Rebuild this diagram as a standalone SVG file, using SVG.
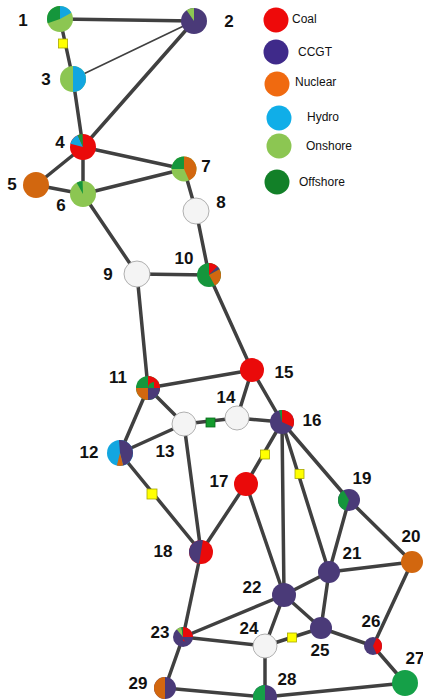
<svg xmlns="http://www.w3.org/2000/svg" width="423" height="700" viewBox="0 0 423 700">
<style>
.e{stroke:#404040;stroke-width:3.5;stroke-linecap:round;fill:none}
.t{stroke-width:1.6}
.w{fill:none}
.lb{font-family:"Liberation Sans",Arial,sans-serif;font-weight:bold;font-size:17px;fill:#111;text-anchor:middle}
.lg{font-family:"Liberation Sans",Arial,sans-serif;font-size:12px;fill:#111}
.wh{fill:#f4f4f4;stroke:#b0b0b0;stroke-width:1}
.ys{fill:#ffff00;stroke:#a8a800;stroke-width:0.8}
.gs{fill:#139a2c;stroke:#0c6a1c;stroke-width:0.8}
</style>
<rect width="423" height="700" fill="#ffffff"/>
<g id="connectors">
<line class="e" x1="60" y1="19" x2="194" y2="21"/>
<line class="e" x1="60" y1="19" x2="73" y2="79"/>
<line class="e t" x1="194" y1="21" x2="73" y2="79"/>
<line class="e" x1="194" y1="21" x2="83" y2="147"/>
<line class="e" x1="73" y1="79" x2="83" y2="147"/>
<line class="e" x1="83" y1="147" x2="36" y2="185"/>
<line class="e" x1="83" y1="147" x2="83" y2="194"/>
<line class="e" x1="83" y1="147" x2="184" y2="169"/>
<line class="e" x1="36" y1="185" x2="83" y2="194"/>
<line class="e" x1="83" y1="194" x2="184" y2="169"/>
<line class="e" x1="184" y1="169" x2="196" y2="211"/>
<line class="e" x1="83" y1="194" x2="137" y2="274"/>
<line class="e" x1="196" y1="211" x2="209" y2="275"/>
<line class="e" x1="137" y1="274" x2="209" y2="275"/>
<line class="e" x1="137" y1="274" x2="148" y2="388"/>
<line class="e" x1="209" y1="275" x2="252" y2="370"/>
<line class="e" x1="148" y1="388" x2="252" y2="370"/>
<line class="e" x1="148" y1="388" x2="120" y2="453"/>
<line class="e" x1="148" y1="388" x2="184" y2="424"/>
<line class="e" x1="120" y1="453" x2="184" y2="424"/>
<line class="e" x1="120" y1="453" x2="201" y2="552"/>
<line class="e" x1="184" y1="424" x2="237" y2="418"/>
<line class="e" x1="184" y1="424" x2="201" y2="552"/>
<line class="e" x1="237" y1="418" x2="252" y2="370"/>
<line class="e" x1="237" y1="418" x2="282" y2="422"/>
<line class="e" x1="252" y1="370" x2="282" y2="422"/>
<line class="e" x1="282" y1="422" x2="246" y2="484"/>
<line class="e" x1="282" y1="422" x2="284" y2="595"/>
<line class="e" x1="282" y1="422" x2="329" y2="572"/>
<line class="e" x1="282" y1="422" x2="349" y2="500"/>
<line class="e" x1="246" y1="484" x2="201" y2="552"/>
<line class="e" x1="246" y1="484" x2="284" y2="595"/>
<line class="e" x1="349" y1="500" x2="329" y2="572"/>
<line class="e" x1="349" y1="500" x2="412" y2="562"/>
<line class="e" x1="412" y1="562" x2="329" y2="572"/>
<line class="e" x1="412" y1="562" x2="373" y2="646"/>
<line class="e" x1="329" y1="572" x2="284" y2="595"/>
<line class="e" x1="329" y1="572" x2="321" y2="628"/>
<line class="e" x1="284" y1="595" x2="321" y2="628"/>
<line class="e" x1="284" y1="595" x2="183" y2="637"/>
<line class="e" x1="284" y1="595" x2="265" y2="646"/>
<line class="e" x1="183" y1="637" x2="265" y2="646"/>
<line class="e" x1="201" y1="552" x2="183" y2="637"/>
<line class="e" x1="183" y1="637" x2="165" y2="688"/>
<line class="e" x1="265" y1="646" x2="321" y2="628"/>
<line class="e" x1="265" y1="646" x2="265" y2="697"/>
<line class="e" x1="321" y1="628" x2="373" y2="646"/>
<line class="e" x1="373" y1="646" x2="405" y2="683"/>
<line class="e" x1="165" y1="688" x2="265" y2="697"/>
<line class="e" x1="265" y1="697" x2="405" y2="683"/>
<rect class="ys" x="58.5" y="39" width="9" height="9"/>
<rect class="ys" x="147" y="489" width="10" height="10"/>
<rect class="ys" x="260.5" y="450" width="9" height="9"/>
<rect class="ys" x="295" y="469.5" width="9" height="9"/>
<rect class="ys" x="287.5" y="633" width="9" height="9"/>
<rect class="gs" x="206" y="418" width="9" height="9"/>
</g>
<g id="n1"><circle cx="60" cy="19" r="13" fill="#8cc652"/><circle class="w" cx="60" cy="19" r="6.5" stroke-width="13" pathLength="100" stroke="#12a6e0" stroke-dasharray="16.67 100" transform="rotate(-90 60 19)"/><circle class="w" cx="60" cy="19" r="6.5" stroke-width="13" pathLength="100" stroke="#15963c" stroke-dasharray="30.56 100" stroke-dashoffset="-69.44" transform="rotate(-90 60 19)"/></g>
<g id="n2"><circle cx="194" cy="21" r="13" fill="#4a3a78"/><circle class="w" cx="194" cy="21" r="6.5" stroke-width="13" pathLength="100" stroke="#8cc652" stroke-dasharray="9.72 100" stroke-dashoffset="-90.28" transform="rotate(-90 194 21)"/></g>
<g id="n3"><circle cx="73" cy="79" r="13" fill="#8cc652"/><circle class="w" cx="73" cy="79" r="6.5" stroke-width="13" pathLength="100" stroke="#12a6e0" stroke-dasharray="50 100" transform="rotate(-90 73 79)"/></g>
<g id="n4"><circle cx="83" cy="147" r="13" fill="#ea0a0a"/><circle class="w" cx="83" cy="147" r="6.5" stroke-width="13" pathLength="100" stroke="#12a6e0" stroke-dasharray="13.89 100" stroke-dashoffset="-79.17" transform="rotate(-90 83 147)"/><circle class="w" cx="83" cy="147" r="6.5" stroke-width="13" pathLength="100" stroke="#15963c" stroke-dasharray="6.39 100" stroke-dashoffset="-93.06" transform="rotate(-90 83 147)"/></g>
<g id="n5"><circle cx="36" cy="185" r="13" fill="#d2670f"/></g>
<g id="n6"><circle cx="83" cy="194" r="13" fill="#8cc652"/><circle class="w" cx="83" cy="194" r="6.5" stroke-width="13" pathLength="100" stroke="#15963c" stroke-dasharray="7.78 100" stroke-dashoffset="-91.67" transform="rotate(-90 83 194)"/></g>
<g id="n7"><circle cx="184" cy="169" r="12.5" fill="#8cc652"/><circle class="w" cx="184" cy="169" r="6.25" stroke-width="12.5" pathLength="100" stroke="#d2670f" stroke-dasharray="43.06 100" transform="rotate(-90 184 169)"/><circle class="w" cx="184" cy="169" r="6.25" stroke-width="12.5" pathLength="100" stroke="#15963c" stroke-dasharray="25 100" stroke-dashoffset="-75" transform="rotate(-90 184 169)"/></g>
<g id="n8"><circle class="wh" cx="196" cy="211" r="13"/></g>
<g id="n9"><circle class="wh" cx="137" cy="274" r="13"/></g>
<g id="n10"><circle cx="209" cy="275" r="12" fill="#15963c"/><circle class="w" cx="209" cy="275" r="6" stroke-width="12" pathLength="100" stroke="#ea0a0a" stroke-dasharray="12.5 100" transform="rotate(-90 209 275)"/><circle class="w" cx="209" cy="275" r="6" stroke-width="12" pathLength="100" stroke="#4a3a78" stroke-dasharray="4.17 100" stroke-dashoffset="-12.5" transform="rotate(-90 209 275)"/><circle class="w" cx="209" cy="275" r="6" stroke-width="12" pathLength="100" stroke="#d2670f" stroke-dasharray="25 100" stroke-dashoffset="-16.67" transform="rotate(-90 209 275)"/></g>
<g id="n11"><circle cx="148" cy="388" r="12" fill="#15963c"/><circle class="w" cx="148" cy="388" r="6" stroke-width="12" pathLength="100" stroke="#ea0a0a" stroke-dasharray="25 100" transform="rotate(-90 148 388)"/><circle class="w" cx="148" cy="388" r="6" stroke-width="12" pathLength="100" stroke="#4a3a78" stroke-dasharray="25 100" stroke-dashoffset="-25" transform="rotate(-90 148 388)"/><circle class="w" cx="148" cy="388" r="6" stroke-width="12" pathLength="100" stroke="#d2670f" stroke-dasharray="25 100" stroke-dashoffset="-50" transform="rotate(-90 148 388)"/></g>
<g id="n12"><circle cx="120" cy="453" r="13" fill="#12a6e0"/><circle class="w" cx="120" cy="453" r="6.5" stroke-width="13" pathLength="100" stroke="#4a3a78" stroke-dasharray="45.83 100" transform="rotate(-90 120 453)"/><circle class="w" cx="120" cy="453" r="6.5" stroke-width="13" pathLength="100" stroke="#d2670f" stroke-dasharray="8.33 100" stroke-dashoffset="-45.83" transform="rotate(-90 120 453)"/><circle class="w" cx="120" cy="453" r="6.5" stroke-width="13" pathLength="100" stroke="#4a3a78" stroke-dasharray="1.39 100" stroke-dashoffset="-98.61" transform="rotate(-90 120 453)"/></g>
<g id="n13"><circle class="wh" cx="184" cy="424" r="12"/></g>
<g id="n14"><circle class="wh" cx="237" cy="418" r="12"/></g>
<g id="n15"><circle cx="252" cy="370" r="12" fill="#ea0a0a"/></g>
<g id="n16"><circle cx="282" cy="422" r="12" fill="#4a3a78"/><circle class="w" cx="282" cy="422" r="6" stroke-width="12" pathLength="100" stroke="#ea0a0a" stroke-dasharray="31.94 100" transform="rotate(-90 282 422)"/><circle class="w" cx="282" cy="422" r="6" stroke-width="12" pathLength="100" stroke="#15963c" stroke-dasharray="4.17 100" stroke-dashoffset="-95.83" transform="rotate(-90 282 422)"/></g>
<g id="n17"><circle cx="246" cy="484" r="12" fill="#ea0a0a"/></g>
<g id="n18"><circle cx="201" cy="552" r="12" fill="#ea0a0a"/><circle class="w" cx="201" cy="552" r="6" stroke-width="12" pathLength="100" stroke="#4a3a78" stroke-dasharray="47.22 100" stroke-dashoffset="-52.78" transform="rotate(-90 201 552)"/><circle class="w" cx="201" cy="552" r="6" stroke-width="12" pathLength="100" stroke="#4a3a78" stroke-dasharray="2.78 100" transform="rotate(-90 201 552)"/></g>
<g id="n19"><circle cx="349" cy="500" r="11" fill="#4a3a78"/><circle class="w" cx="349" cy="500" r="5.5" stroke-width="11" pathLength="100" stroke="#15963c" stroke-dasharray="36.11 100" stroke-dashoffset="-55.56" transform="rotate(-90 349 500)"/></g>
<g id="n20"><circle cx="412" cy="562" r="11" fill="#d2670f"/></g>
<g id="n21"><circle cx="329" cy="572" r="11" fill="#4a3a78"/></g>
<g id="n22"><circle cx="284" cy="595" r="12" fill="#4a3a78"/></g>
<g id="n23"><circle cx="183" cy="637" r="10" fill="#4a3a78"/><circle class="w" cx="183" cy="637" r="5" stroke-width="10" pathLength="100" stroke="#ea0a0a" stroke-dasharray="25 100" transform="rotate(-90 183 637)"/><circle class="w" cx="183" cy="637" r="5" stroke-width="10" pathLength="100" stroke="#8cc652" stroke-dasharray="8.33 100" stroke-dashoffset="-88.89" transform="rotate(-90 183 637)"/><circle class="w" cx="183" cy="637" r="5" stroke-width="10" pathLength="100" stroke="#15963c" stroke-dasharray="2.78 100" stroke-dashoffset="-97.22" transform="rotate(-90 183 637)"/></g>
<g id="n24"><circle class="wh" cx="265" cy="646" r="12"/></g>
<g id="n25"><circle cx="321" cy="628" r="11" fill="#4a3a78"/></g>
<g id="n26"><circle cx="373" cy="646" r="9" fill="#4a3a78"/><circle class="w" cx="373" cy="646" r="4.5" stroke-width="9" pathLength="100" stroke="#ea0a0a" stroke-dasharray="36.11 100" stroke-dashoffset="-6.94" transform="rotate(-90 373 646)"/></g>
<g id="n27"><circle cx="405" cy="683" r="13" fill="#15a048"/></g>
<g id="n28"><circle cx="265" cy="697" r="12" fill="#4a3a78"/><circle class="w" cx="265" cy="697" r="6" stroke-width="12" pathLength="100" stroke="#15a048" stroke-dasharray="50 100" stroke-dashoffset="-50" transform="rotate(-90 265 697)"/></g>
<g id="n29"><circle cx="165" cy="688" r="11" fill="#4a3a78"/><circle class="w" cx="165" cy="688" r="5.5" stroke-width="11" pathLength="100" stroke="#d2670f" stroke-dasharray="50 100" stroke-dashoffset="-50" transform="rotate(-90 165 688)"/></g>
<g id="labels">
<text class="lb" x="23" y="26">1</text>
<text class="lb" x="229" y="27">2</text>
<text class="lb" x="46" y="85">3</text>
<text class="lb" x="60" y="148">4</text>
<text class="lb" x="12" y="190">5</text>
<text class="lb" x="61" y="211">6</text>
<text class="lb" x="206" y="172">7</text>
<text class="lb" x="221" y="208">8</text>
<text class="lb" x="108" y="280">9</text>
<text class="lb" x="184" y="264">10</text>
<text class="lb" x="118" y="383">11</text>
<text class="lb" x="89" y="458">12</text>
<text class="lb" x="165" y="457">13</text>
<text class="lb" x="226" y="403">14</text>
<text class="lb" x="284" y="378">15</text>
<text class="lb" x="312" y="426">16</text>
<text class="lb" x="219" y="487">17</text>
<text class="lb" x="163" y="557">18</text>
<text class="lb" x="362" y="484">19</text>
<text class="lb" x="411" y="542">20</text>
<text class="lb" x="352" y="559">21</text>
<text class="lb" x="252" y="593">22</text>
<text class="lb" x="160" y="638">23</text>
<text class="lb" x="249" y="634">24</text>
<text class="lb" x="320" y="656">25</text>
<text class="lb" x="371" y="627">26</text>
<text class="lb" x="415" y="664">27</text>
<text class="lb" x="287" y="685">28</text>
<text class="lb" x="138" y="689">29</text>
</g>
<g id="legend">
<circle cx="276" cy="20" r="12.5" fill="#ee0a0a"/>
<circle cx="276" cy="52" r="12.5" fill="#3f2a8a"/>
<circle cx="277" cy="84" r="12.5" fill="#f06a10"/>
<circle cx="279" cy="118" r="12.5" fill="#10aee8"/>
<circle cx="279" cy="146" r="12.5" fill="#8cc652"/>
<circle cx="277" cy="182" r="12.5" fill="#128028"/>
<text class="lg" x="292" y="23">Coal</text>
<text class="lg" x="298" y="56">CCGT</text>
<text class="lg" x="295" y="86">Nuclear</text>
<text class="lg" x="307" y="121">Hydro</text>
<text class="lg" x="306" y="150">Onshore</text>
<text class="lg" x="299" y="186">Offshore</text>
</g>
</svg>
